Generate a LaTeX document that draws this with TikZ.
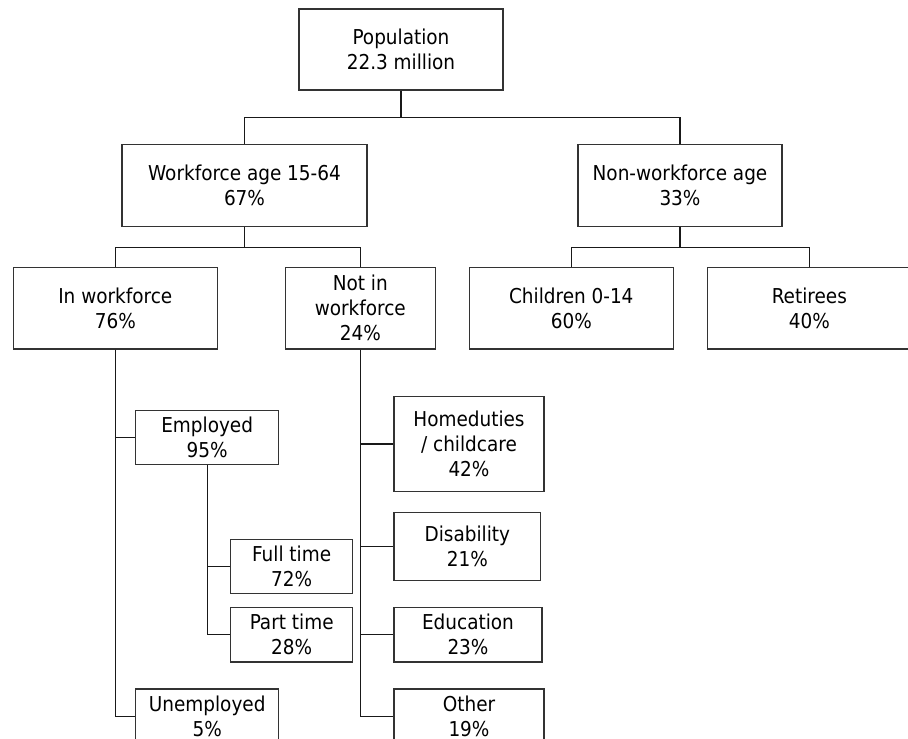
\documentclass[tikz,border=0pt]{standalone}
\usepackage{fontspec}
\setmainfont{DejaVu Sans Condensed}
\begin{document}
\begin{tikzpicture}[x=1pt,y=-1pt,
  box/.style={draw=black!80, line width=1.2pt, rectangle, inner sep=0pt, align=center,
    font=\fontsize{20.5}{25}\selectfont},
  conn/.style={draw=black!90, line width=1.2pt}]
\useasboundingbox (0,0) rectangle (908,739);
% level 0
\node[box, minimum width=204pt, minimum height=81pt] (pop) at (401,49.5) {Population\\22.3 million};
% level 1
\node[box, minimum width=245pt, minimum height=81.5pt] (wf) at (244.5,185.5) {Workforce age 15-64\\67\%};
\node[box, minimum width=204pt, minimum height=81.5pt] (nwf) at (680,185.5) {Non-workforce age\\33\%};
% level 2
\node[box, minimum width=204pt, minimum height=81.7pt] (inwf) at (115.3,308.2) {In workforce\\76\%};
\node[box, minimum width=150pt, minimum height=81.7pt] (niwf) at (360.3,308.2) {Not in\\workforce\\24\%};
\node[box, minimum width=204pt, minimum height=81.7pt] (child) at (571.3,308.2) {Children 0-14\\60\%};
\node[box, minimum width=204pt, minimum height=81.7pt] (ret) at (809.3,308.2) {Retirees\\40\%};
% in workforce branch
\node[box, minimum width=143pt, minimum height=54.4pt] (emp) at (207.2,437.5) {Employed\\95\%};
\node[box, minimum width=122pt, minimum height=54.4pt] (ft) at (291.7,566.5) {Full time\\72\%};
\node[box, minimum width=122pt, minimum height=54.7pt] (pt) at (291.7,634.7) {Part time\\28\%};
\node[box, minimum width=143pt, minimum height=54.4pt] (unemp) at (207.2,716.2) {Unemployed\\5\%};
% not in workforce branch
\node[box, minimum width=150pt, minimum height=95.4pt] (home) at (469,444) {Homeduties\\/ childcare\\42\%};
\node[box, minimum width=146.7pt, minimum height=68pt] (dis) at (467.3,546.3) {Disability\\21\%};
\node[box, minimum width=148pt, minimum height=54.3pt] (edu) at (468,634.8) {Education\\23\%};
\node[box, minimum width=150pt, minimum height=54.4pt] (oth) at (469,716.2) {Other\\19\%};
% connectors
\draw[conn] (pop.south) -- ++(0,27) -| (wf.north);
\draw[conn] (pop.south) ++(0,27) -| (nwf.north);
\draw[conn] (wf.south) -- ++(0,20.5) -| (inwf.north);
\draw[conn] (wf.south) ++(0,20.5) -| (niwf.north);
\draw[conn] (nwf.south) -- ++(0,20.5) -| (child.north);
\draw[conn] (nwf.south) ++(0,20.5) -| (ret.north);
\draw[conn] (inwf.south) |- (emp.west);
\draw[conn] (inwf.south) |- (unemp.west);
\draw[conn] (emp.south) |- (ft.west);
\draw[conn] (emp.south) |- (pt.west);
\draw[conn] (niwf.south) |- (home.west);
\draw[conn] (niwf.south) |- (dis.west);
\draw[conn] (niwf.south) |- (edu.west);
\draw[conn] (niwf.south) |- (oth.west);
\end{tikzpicture}
\end{document}
